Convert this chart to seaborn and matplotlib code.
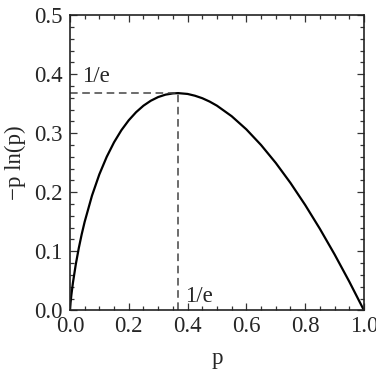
import numpy as np
import pandas as pd
import matplotlib
matplotlib.use("Agg")
import matplotlib.pyplot as plt
import seaborn as sns
from matplotlib.ticker import MultipleLocator

# Values
p_vals = [0.0, 0.001, 0.002, 0.005, 0.01, 0.02, 0.03, 0.04, 0.05, 0.075, 0.1,
          0.125, 0.15, 0.175, 0.2, 0.225, 0.25, 0.275, 0.3, 0.325, 0.35, 0.3679,
          0.4, 0.425, 0.45, 0.475, 0.5, 0.55, 0.6, 0.65, 0.7, 0.75, 0.8, 0.85,
          0.9, 0.95, 1.0]
y_vals = [0.0, 0.0069, 0.0124, 0.0265, 0.0461, 0.0782, 0.1052, 0.1288, 0.1498,
          0.1943, 0.2303, 0.2599, 0.2846, 0.3051, 0.3219, 0.3356, 0.3466, 0.3550,
          0.3612, 0.3653, 0.3674, 0.3679, 0.3665, 0.3635, 0.3593, 0.3536, 0.3466,
          0.3288, 0.3065, 0.2800, 0.2497, 0.2158, 0.1785, 0.1381, 0.0948, 0.0487,
          0.0]
peak_x = 0.3679
peak_y = 0.3679
x_ticks = [0.0, 0.2, 0.4, 0.6, 0.8, 1.0]
x_ticklabels = ["0.0", "0.2", "0.4", "0.6", "0.8", "1.0"]
y_ticks = [0.0, 0.1, 0.2, 0.3, 0.4, 0.5]
y_ticklabels = ["0.0", "0.1", "0.2", "0.3", "0.4", "0.5"]
peak_label = "1/e"
x_label = "p"
y_label = "\u2212p ln(p)"

sns.set_style("ticks")
plt.rcParams["font.family"] = ["Liberation Serif", "DejaVu Serif"]

fig = plt.figure(figsize=(3.76, 3.78), dpi=100)
ax = fig.add_axes([0.186, 0.179, 0.782, 0.781])

df = pd.DataFrame({"p": p_vals, "y": y_vals})
sns.lineplot(data=df, x="p", y="y", ax=ax, color="black", linewidth=1.6, sort=False)

ax.plot([0, peak_x], [peak_y, peak_y], color="#444444", linestyle=(0, (5, 3)), linewidth=1.1)
ax.plot([peak_x, peak_x], [0, peak_y], color="#444444", linestyle=(0, (5, 3)), linewidth=1.1)

fs = 16.5
ax.text(0.04, 0.386, peak_label, fontsize=fs, ha="left", va="baseline")
ax.text(0.391, 0.0144, peak_label, fontsize=fs, ha="left", va="baseline")

ax.set_xlim(0, 1)
ax.set_ylim(0, 0.5)
ax.set_xticks(x_ticks)
ax.set_xticklabels(x_ticklabels)
ax.set_yticks(y_ticks)
ax.set_yticklabels(y_ticklabels)
ax.xaxis.set_minor_locator(MultipleLocator(0.05))
ax.yaxis.set_minor_locator(MultipleLocator(0.02))
ax.tick_params(which="both", direction="in", top=True, right=True, labelsize=fs,
               width=0.9, color="#333333")
ax.tick_params(which="major", length=5)
ax.tick_params(which="minor", length=3)
ax.tick_params(axis="y", pad=5)
ax.tick_params(axis="x", pad=4)

for s in ax.spines.values():
    s.set_visible(True)
    s.set_linewidth(1.2)
    s.set_color("#222222")

ax.set_xlabel(x_label, fontsize=fs, labelpad=8)
ax.set_ylabel(y_label, fontsize=fs, labelpad=6)

fig.savefig("out.png", dpi=100)
